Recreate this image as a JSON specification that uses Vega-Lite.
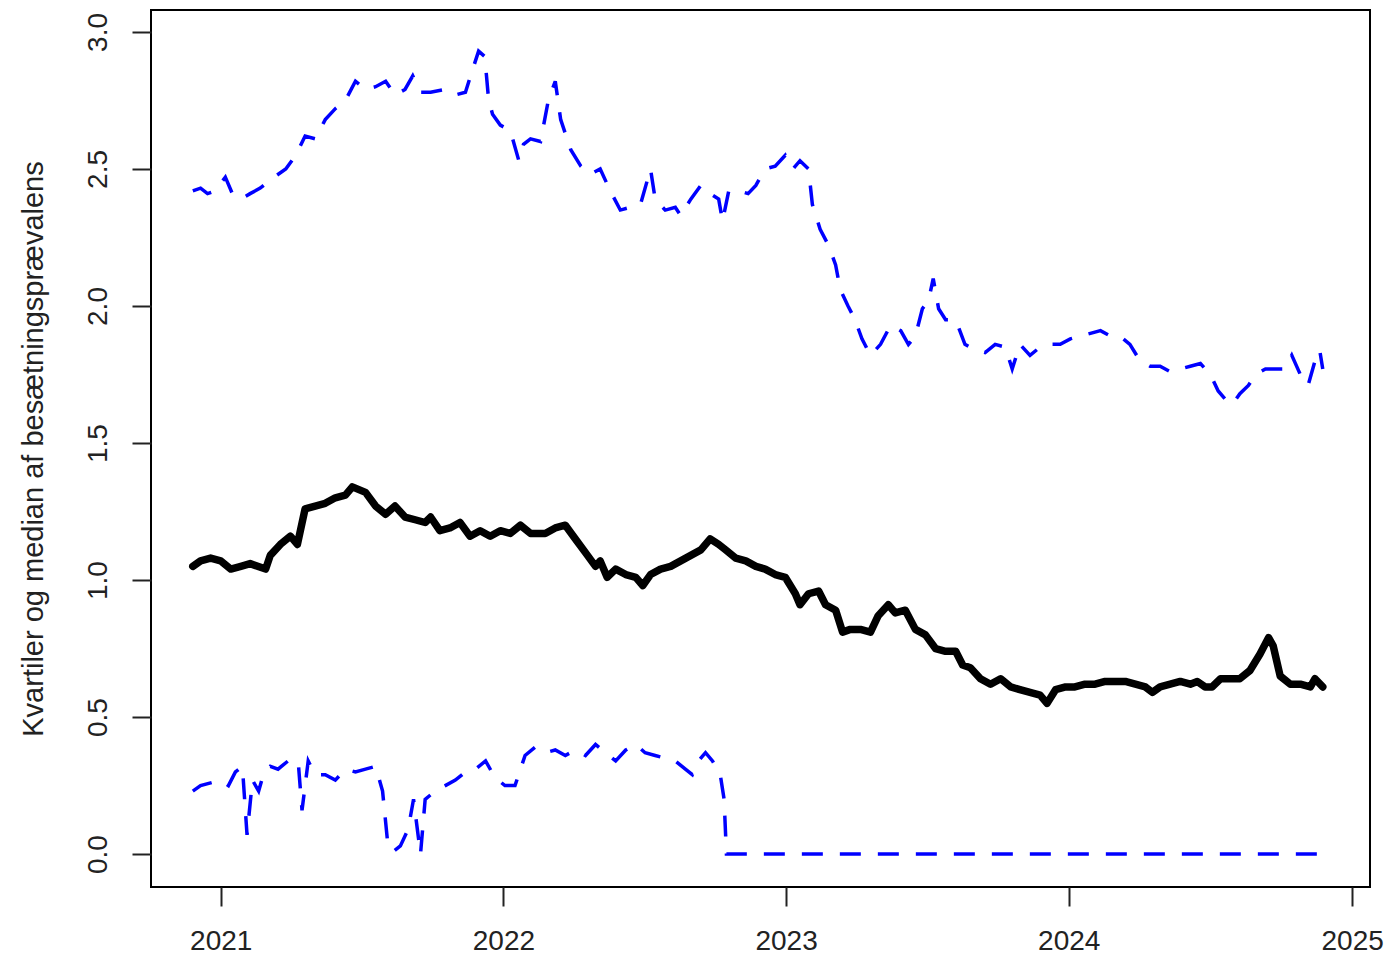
{
  "$schema": "https://vega.github.io/schema/vega-lite/v6.json",
  "width": 1219,
  "height": 877,
  "autosize": {"type": "none"},
  "padding": {"left": 151, "top": 10, "right": 18, "bottom": 69},
  "background": "white",
  "config": {
    "font": "Liberation Sans",
    "view": {"stroke": "#000000", "strokeWidth": 2},
    "axis": {
      "domain": false,
      "grid": false,
      "ticks": true,
      "tickColor": "#222222",
      "tickWidth": 2,
      "tickSize": 19,
      "labelFont": "Liberation Sans",
      "labelFontSize": 28,
      "labelColor": "#222222",
      "titleFont": "Liberation Sans",
      "titleFontSize": 29,
      "titleFontWeight": "normal",
      "titleColor": "#222222"
    }
  },
  "datasets": {
    "median": [
      {"date": "2020-11-26", "value": 1.05}, {"date": "2020-12-06", "value": 1.07}, {"date": "2020-12-19", "value": 1.08},
      {"date": "2021-01-01", "value": 1.07}, {"date": "2021-01-14", "value": 1.04}, {"date": "2021-01-27", "value": 1.05},
      {"date": "2021-02-08", "value": 1.06}, {"date": "2021-02-28", "value": 1.04}, {"date": "2021-03-06", "value": 1.09},
      {"date": "2021-03-19", "value": 1.13}, {"date": "2021-04-01", "value": 1.16}, {"date": "2021-04-10", "value": 1.13},
      {"date": "2021-04-20", "value": 1.26}, {"date": "2021-05-03", "value": 1.27}, {"date": "2021-05-16", "value": 1.28},
      {"date": "2021-05-29", "value": 1.30}, {"date": "2021-06-11", "value": 1.31}, {"date": "2021-06-20", "value": 1.34},
      {"date": "2021-07-07", "value": 1.32}, {"date": "2021-07-20", "value": 1.27}, {"date": "2021-08-02", "value": 1.24},
      {"date": "2021-08-14", "value": 1.27}, {"date": "2021-08-27", "value": 1.23}, {"date": "2021-09-09", "value": 1.22},
      {"date": "2021-09-22", "value": 1.21}, {"date": "2021-09-29", "value": 1.23}, {"date": "2021-10-11", "value": 1.18},
      {"date": "2021-10-24", "value": 1.19}, {"date": "2021-11-06", "value": 1.21}, {"date": "2021-11-19", "value": 1.16},
      {"date": "2021-12-02", "value": 1.18}, {"date": "2021-12-15", "value": 1.16}, {"date": "2021-12-28", "value": 1.18},
      {"date": "2022-01-10", "value": 1.17}, {"date": "2022-01-23", "value": 1.20}, {"date": "2022-02-05", "value": 1.17},
      {"date": "2022-02-24", "value": 1.17}, {"date": "2022-03-09", "value": 1.19}, {"date": "2022-03-22", "value": 1.20},
      {"date": "2022-04-04", "value": 1.15}, {"date": "2022-04-17", "value": 1.10}, {"date": "2022-04-30", "value": 1.05},
      {"date": "2022-05-06", "value": 1.07}, {"date": "2022-05-15", "value": 1.01}, {"date": "2022-05-26", "value": 1.04},
      {"date": "2022-06-08", "value": 1.02}, {"date": "2022-06-21", "value": 1.01}, {"date": "2022-06-30", "value": 0.98},
      {"date": "2022-07-10", "value": 1.02}, {"date": "2022-07-23", "value": 1.04}, {"date": "2022-08-05", "value": 1.05},
      {"date": "2022-08-18", "value": 1.07}, {"date": "2022-08-31", "value": 1.09}, {"date": "2022-09-13", "value": 1.11},
      {"date": "2022-09-25", "value": 1.15}, {"date": "2022-10-06", "value": 1.13}, {"date": "2022-10-15", "value": 1.11},
      {"date": "2022-10-28", "value": 1.08}, {"date": "2022-11-10", "value": 1.07}, {"date": "2022-11-23", "value": 1.05},
      {"date": "2022-12-05", "value": 1.04}, {"date": "2022-12-18", "value": 1.02}, {"date": "2022-12-31", "value": 1.01},
      {"date": "2023-01-13", "value": 0.95}, {"date": "2023-01-19", "value": 0.91}, {"date": "2023-01-30", "value": 0.95},
      {"date": "2023-02-12", "value": 0.96}, {"date": "2023-02-21", "value": 0.91}, {"date": "2023-03-06", "value": 0.89},
      {"date": "2023-03-15", "value": 0.81}, {"date": "2023-03-25", "value": 0.82}, {"date": "2023-04-07", "value": 0.82},
      {"date": "2023-04-20", "value": 0.81}, {"date": "2023-04-30", "value": 0.87}, {"date": "2023-05-13", "value": 0.91},
      {"date": "2023-05-22", "value": 0.88}, {"date": "2023-06-04", "value": 0.89}, {"date": "2023-06-17", "value": 0.82},
      {"date": "2023-06-30", "value": 0.80}, {"date": "2023-07-13", "value": 0.75}, {"date": "2023-07-26", "value": 0.74},
      {"date": "2023-08-08", "value": 0.74}, {"date": "2023-08-17", "value": 0.69}, {"date": "2023-08-27", "value": 0.68},
      {"date": "2023-09-09", "value": 0.64}, {"date": "2023-09-22", "value": 0.62}, {"date": "2023-10-05", "value": 0.64},
      {"date": "2023-10-18", "value": 0.61}, {"date": "2023-10-30", "value": 0.60}, {"date": "2023-11-12", "value": 0.59},
      {"date": "2023-11-25", "value": 0.58}, {"date": "2023-12-04", "value": 0.55}, {"date": "2023-12-15", "value": 0.60},
      {"date": "2023-12-28", "value": 0.61}, {"date": "2024-01-09", "value": 0.61}, {"date": "2024-01-22", "value": 0.62},
      {"date": "2024-02-04", "value": 0.62}, {"date": "2024-02-17", "value": 0.63}, {"date": "2024-03-01", "value": 0.63},
      {"date": "2024-03-14", "value": 0.63}, {"date": "2024-03-27", "value": 0.62}, {"date": "2024-04-09", "value": 0.61},
      {"date": "2024-04-18", "value": 0.59}, {"date": "2024-04-28", "value": 0.61}, {"date": "2024-05-11", "value": 0.62},
      {"date": "2024-05-24", "value": 0.63}, {"date": "2024-06-06", "value": 0.62}, {"date": "2024-06-15", "value": 0.63},
      {"date": "2024-06-25", "value": 0.61}, {"date": "2024-07-04", "value": 0.61}, {"date": "2024-07-15", "value": 0.64},
      {"date": "2024-07-27", "value": 0.64}, {"date": "2024-08-09", "value": 0.64}, {"date": "2024-08-22", "value": 0.67},
      {"date": "2024-09-04", "value": 0.73}, {"date": "2024-09-15", "value": 0.79}, {"date": "2024-09-21", "value": 0.76},
      {"date": "2024-09-30", "value": 0.65}, {"date": "2024-10-13", "value": 0.62}, {"date": "2024-10-26", "value": 0.62},
      {"date": "2024-11-08", "value": 0.61}, {"date": "2024-11-14", "value": 0.64}, {"date": "2024-11-24", "value": 0.61}
    ],
    "upper": [
      {"date": "2020-11-26", "value": 2.42}, {"date": "2020-12-06", "value": 2.43}, {"date": "2020-12-15", "value": 2.41},
      {"date": "2020-12-25", "value": 2.42}, {"date": "2021-01-07", "value": 2.47}, {"date": "2021-01-16", "value": 2.41},
      {"date": "2021-01-27", "value": 2.39}, {"date": "2021-02-08", "value": 2.41}, {"date": "2021-02-21", "value": 2.43},
      {"date": "2021-03-06", "value": 2.46}, {"date": "2021-03-26", "value": 2.50}, {"date": "2021-04-08", "value": 2.55},
      {"date": "2021-04-20", "value": 2.62}, {"date": "2021-05-03", "value": 2.61}, {"date": "2021-05-16", "value": 2.68},
      {"date": "2021-05-29", "value": 2.72}, {"date": "2021-06-11", "value": 2.75}, {"date": "2021-06-24", "value": 2.82},
      {"date": "2021-07-07", "value": 2.79}, {"date": "2021-07-20", "value": 2.80}, {"date": "2021-08-02", "value": 2.82},
      {"date": "2021-08-14", "value": 2.77}, {"date": "2021-08-27", "value": 2.79}, {"date": "2021-09-06", "value": 2.84},
      {"date": "2021-09-16", "value": 2.78}, {"date": "2021-09-29", "value": 2.78}, {"date": "2021-10-18", "value": 2.79},
      {"date": "2021-10-31", "value": 2.77}, {"date": "2021-11-13", "value": 2.78}, {"date": "2021-11-22", "value": 2.86},
      {"date": "2021-11-30", "value": 2.93}, {"date": "2021-12-08", "value": 2.91}, {"date": "2021-12-13", "value": 2.75},
      {"date": "2021-12-18", "value": 2.70}, {"date": "2021-12-28", "value": 2.66}, {"date": "2022-01-10", "value": 2.64},
      {"date": "2022-01-21", "value": 2.53}, {"date": "2022-01-27", "value": 2.59}, {"date": "2022-02-05", "value": 2.61},
      {"date": "2022-02-18", "value": 2.60}, {"date": "2022-02-28", "value": 2.75}, {"date": "2022-03-09", "value": 2.82},
      {"date": "2022-03-16", "value": 2.68}, {"date": "2022-03-29", "value": 2.57}, {"date": "2022-04-11", "value": 2.51},
      {"date": "2022-04-23", "value": 2.48}, {"date": "2022-05-06", "value": 2.50}, {"date": "2022-05-19", "value": 2.42},
      {"date": "2022-06-01", "value": 2.35}, {"date": "2022-06-14", "value": 2.36}, {"date": "2022-06-27", "value": 2.37},
      {"date": "2022-07-10", "value": 2.50}, {"date": "2022-07-16", "value": 2.39}, {"date": "2022-07-29", "value": 2.35},
      {"date": "2022-08-11", "value": 2.36}, {"date": "2022-08-18", "value": 2.33}, {"date": "2022-08-31", "value": 2.39},
      {"date": "2022-09-13", "value": 2.44}, {"date": "2022-09-25", "value": 2.41}, {"date": "2022-10-06", "value": 2.39},
      {"date": "2022-10-11", "value": 2.31}, {"date": "2022-10-19", "value": 2.42}, {"date": "2022-11-01", "value": 2.42},
      {"date": "2022-11-13", "value": 2.41}, {"date": "2022-11-23", "value": 2.44}, {"date": "2022-12-05", "value": 2.50},
      {"date": "2022-12-18", "value": 2.51}, {"date": "2022-12-31", "value": 2.55}, {"date": "2023-01-10", "value": 2.50},
      {"date": "2023-01-19", "value": 2.53}, {"date": "2023-01-30", "value": 2.50}, {"date": "2023-02-04", "value": 2.37},
      {"date": "2023-02-14", "value": 2.28}, {"date": "2023-02-25", "value": 2.22}, {"date": "2023-03-06", "value": 2.15},
      {"date": "2023-03-12", "value": 2.06}, {"date": "2023-03-22", "value": 2.00}, {"date": "2023-03-31", "value": 1.95},
      {"date": "2023-04-09", "value": 1.88}, {"date": "2023-04-20", "value": 1.82}, {"date": "2023-05-03", "value": 1.86},
      {"date": "2023-05-16", "value": 1.93}, {"date": "2023-05-29", "value": 1.91}, {"date": "2023-06-08", "value": 1.86},
      {"date": "2023-06-17", "value": 1.89}, {"date": "2023-06-26", "value": 1.99}, {"date": "2023-07-04", "value": 2.02},
      {"date": "2023-07-10", "value": 2.10}, {"date": "2023-07-17", "value": 1.99}, {"date": "2023-07-26", "value": 1.95},
      {"date": "2023-08-08", "value": 1.95}, {"date": "2023-08-20", "value": 1.86}, {"date": "2023-09-02", "value": 1.84},
      {"date": "2023-09-15", "value": 1.83}, {"date": "2023-09-28", "value": 1.86}, {"date": "2023-10-11", "value": 1.85},
      {"date": "2023-10-20", "value": 1.77}, {"date": "2023-10-30", "value": 1.86}, {"date": "2023-11-12", "value": 1.82},
      {"date": "2023-11-25", "value": 1.85}, {"date": "2023-12-08", "value": 1.86}, {"date": "2023-12-21", "value": 1.86},
      {"date": "2024-01-03", "value": 1.88}, {"date": "2024-01-16", "value": 1.89}, {"date": "2024-01-29", "value": 1.90},
      {"date": "2024-02-11", "value": 1.91}, {"date": "2024-02-24", "value": 1.89}, {"date": "2024-03-07", "value": 1.89},
      {"date": "2024-03-20", "value": 1.86}, {"date": "2024-04-02", "value": 1.80}, {"date": "2024-04-15", "value": 1.78},
      {"date": "2024-04-28", "value": 1.78}, {"date": "2024-05-11", "value": 1.76}, {"date": "2024-05-24", "value": 1.77},
      {"date": "2024-06-06", "value": 1.78}, {"date": "2024-06-19", "value": 1.79}, {"date": "2024-07-02", "value": 1.75},
      {"date": "2024-07-12", "value": 1.69}, {"date": "2024-07-21", "value": 1.66}, {"date": "2024-07-30", "value": 1.64},
      {"date": "2024-08-09", "value": 1.68}, {"date": "2024-08-20", "value": 1.71}, {"date": "2024-08-29", "value": 1.75},
      {"date": "2024-09-11", "value": 1.77}, {"date": "2024-09-24", "value": 1.77}, {"date": "2024-10-06", "value": 1.77},
      {"date": "2024-10-15", "value": 1.82}, {"date": "2024-10-26", "value": 1.75}, {"date": "2024-11-05", "value": 1.71},
      {"date": "2024-11-14", "value": 1.80}, {"date": "2024-11-20", "value": 1.84}, {"date": "2024-11-24", "value": 1.77}
    ],
    "lower": [
      {"date": "2020-11-26", "value": 0.23}, {"date": "2020-12-06", "value": 0.25}, {"date": "2020-12-19", "value": 0.26},
      {"date": "2021-01-01", "value": 0.27}, {"date": "2021-01-11", "value": 0.25}, {"date": "2021-01-20", "value": 0.30},
      {"date": "2021-01-29", "value": 0.32}, {"date": "2021-02-04", "value": 0.07}, {"date": "2021-02-11", "value": 0.27},
      {"date": "2021-02-19", "value": 0.23}, {"date": "2021-02-25", "value": 0.29}, {"date": "2021-03-06", "value": 0.32},
      {"date": "2021-03-16", "value": 0.31}, {"date": "2021-03-29", "value": 0.34}, {"date": "2021-04-11", "value": 0.34},
      {"date": "2021-04-16", "value": 0.16}, {"date": "2021-04-24", "value": 0.34}, {"date": "2021-05-03", "value": 0.29},
      {"date": "2021-05-16", "value": 0.29}, {"date": "2021-05-29", "value": 0.27}, {"date": "2021-06-11", "value": 0.31},
      {"date": "2021-06-24", "value": 0.30}, {"date": "2021-07-07", "value": 0.31}, {"date": "2021-07-20", "value": 0.32},
      {"date": "2021-07-29", "value": 0.23}, {"date": "2021-08-05", "value": 0.03}, {"date": "2021-08-12", "value": 0.01},
      {"date": "2021-08-21", "value": 0.03}, {"date": "2021-08-31", "value": 0.09}, {"date": "2021-09-07", "value": 0.20},
      {"date": "2021-09-16", "value": 0.00}, {"date": "2021-09-22", "value": 0.20}, {"date": "2021-10-05", "value": 0.23},
      {"date": "2021-10-18", "value": 0.25}, {"date": "2021-10-31", "value": 0.27}, {"date": "2021-11-13", "value": 0.30},
      {"date": "2021-11-26", "value": 0.31}, {"date": "2021-12-09", "value": 0.34}, {"date": "2021-12-21", "value": 0.28},
      {"date": "2022-01-03", "value": 0.25}, {"date": "2022-01-16", "value": 0.25}, {"date": "2022-01-29", "value": 0.36},
      {"date": "2022-02-11", "value": 0.39}, {"date": "2022-02-24", "value": 0.37}, {"date": "2022-03-09", "value": 0.38},
      {"date": "2022-03-22", "value": 0.36}, {"date": "2022-04-04", "value": 0.38}, {"date": "2022-04-17", "value": 0.36},
      {"date": "2022-04-30", "value": 0.40}, {"date": "2022-05-13", "value": 0.37}, {"date": "2022-05-26", "value": 0.34},
      {"date": "2022-06-08", "value": 0.38}, {"date": "2022-06-21", "value": 0.40}, {"date": "2022-07-03", "value": 0.37},
      {"date": "2022-07-16", "value": 0.36}, {"date": "2022-07-29", "value": 0.35}, {"date": "2022-08-11", "value": 0.34},
      {"date": "2022-08-24", "value": 0.31}, {"date": "2022-09-02", "value": 0.29}, {"date": "2022-09-10", "value": 0.34},
      {"date": "2022-09-19", "value": 0.37}, {"date": "2022-09-28", "value": 0.34}, {"date": "2022-10-08", "value": 0.29},
      {"date": "2022-10-13", "value": 0.20}, {"date": "2022-10-16", "value": 0.00}, {"date": "2024-11-24", "value": 0.00}
    ]
  },
  "layer": [
    {
      "data": {"name": "upper"},
      "mark": {"type": "line", "color": "#0000FF", "strokeWidth": 3.5, "strokeDash": [21, 17], "strokeCap": "butt"},
      "encoding": {
        "x": {
          "field": "date", "type": "temporal",
          "scale": {"domain": ["2020-10-03", "2025-01-24"]},
          "axis": {"format": "%Y", "tickCount": {"interval": "year", "step": 1}, "labelPadding": 21, "labelFlush": false, "title": null}
        },
        "y": {
          "field": "value", "type": "quantitative",
          "scale": {"domain": [-0.12, 3.08], "nice": false, "zero": false},
          "axis": {
            "values": [0, 0.5, 1, 1.5, 2, 2.5, 3], "format": ".1f",
            "labelAngle": -90, "labelAlign": "center", "labelBaseline": "bottom",
            "labelPadding": 20, "labelFlush": false,
            "title": "Kvartiler og median af besætningsprævalens", "titlePadding": 36
          }
        }
      }
    },
    {
      "data": {"name": "lower"},
      "mark": {"type": "line", "color": "#0000FF", "strokeWidth": 3.5, "strokeDash": [21, 17], "strokeCap": "butt"},
      "encoding": {
        "x": {"field": "date", "type": "temporal"},
        "y": {"field": "value", "type": "quantitative"}
      }
    },
    {
      "data": {"name": "median"},
      "mark": {"type": "line", "color": "#000000", "strokeWidth": 7.5, "strokeJoin": "round", "strokeCap": "round"},
      "encoding": {
        "x": {"field": "date", "type": "temporal"},
        "y": {"field": "value", "type": "quantitative"}
      }
    }
  ]
}
